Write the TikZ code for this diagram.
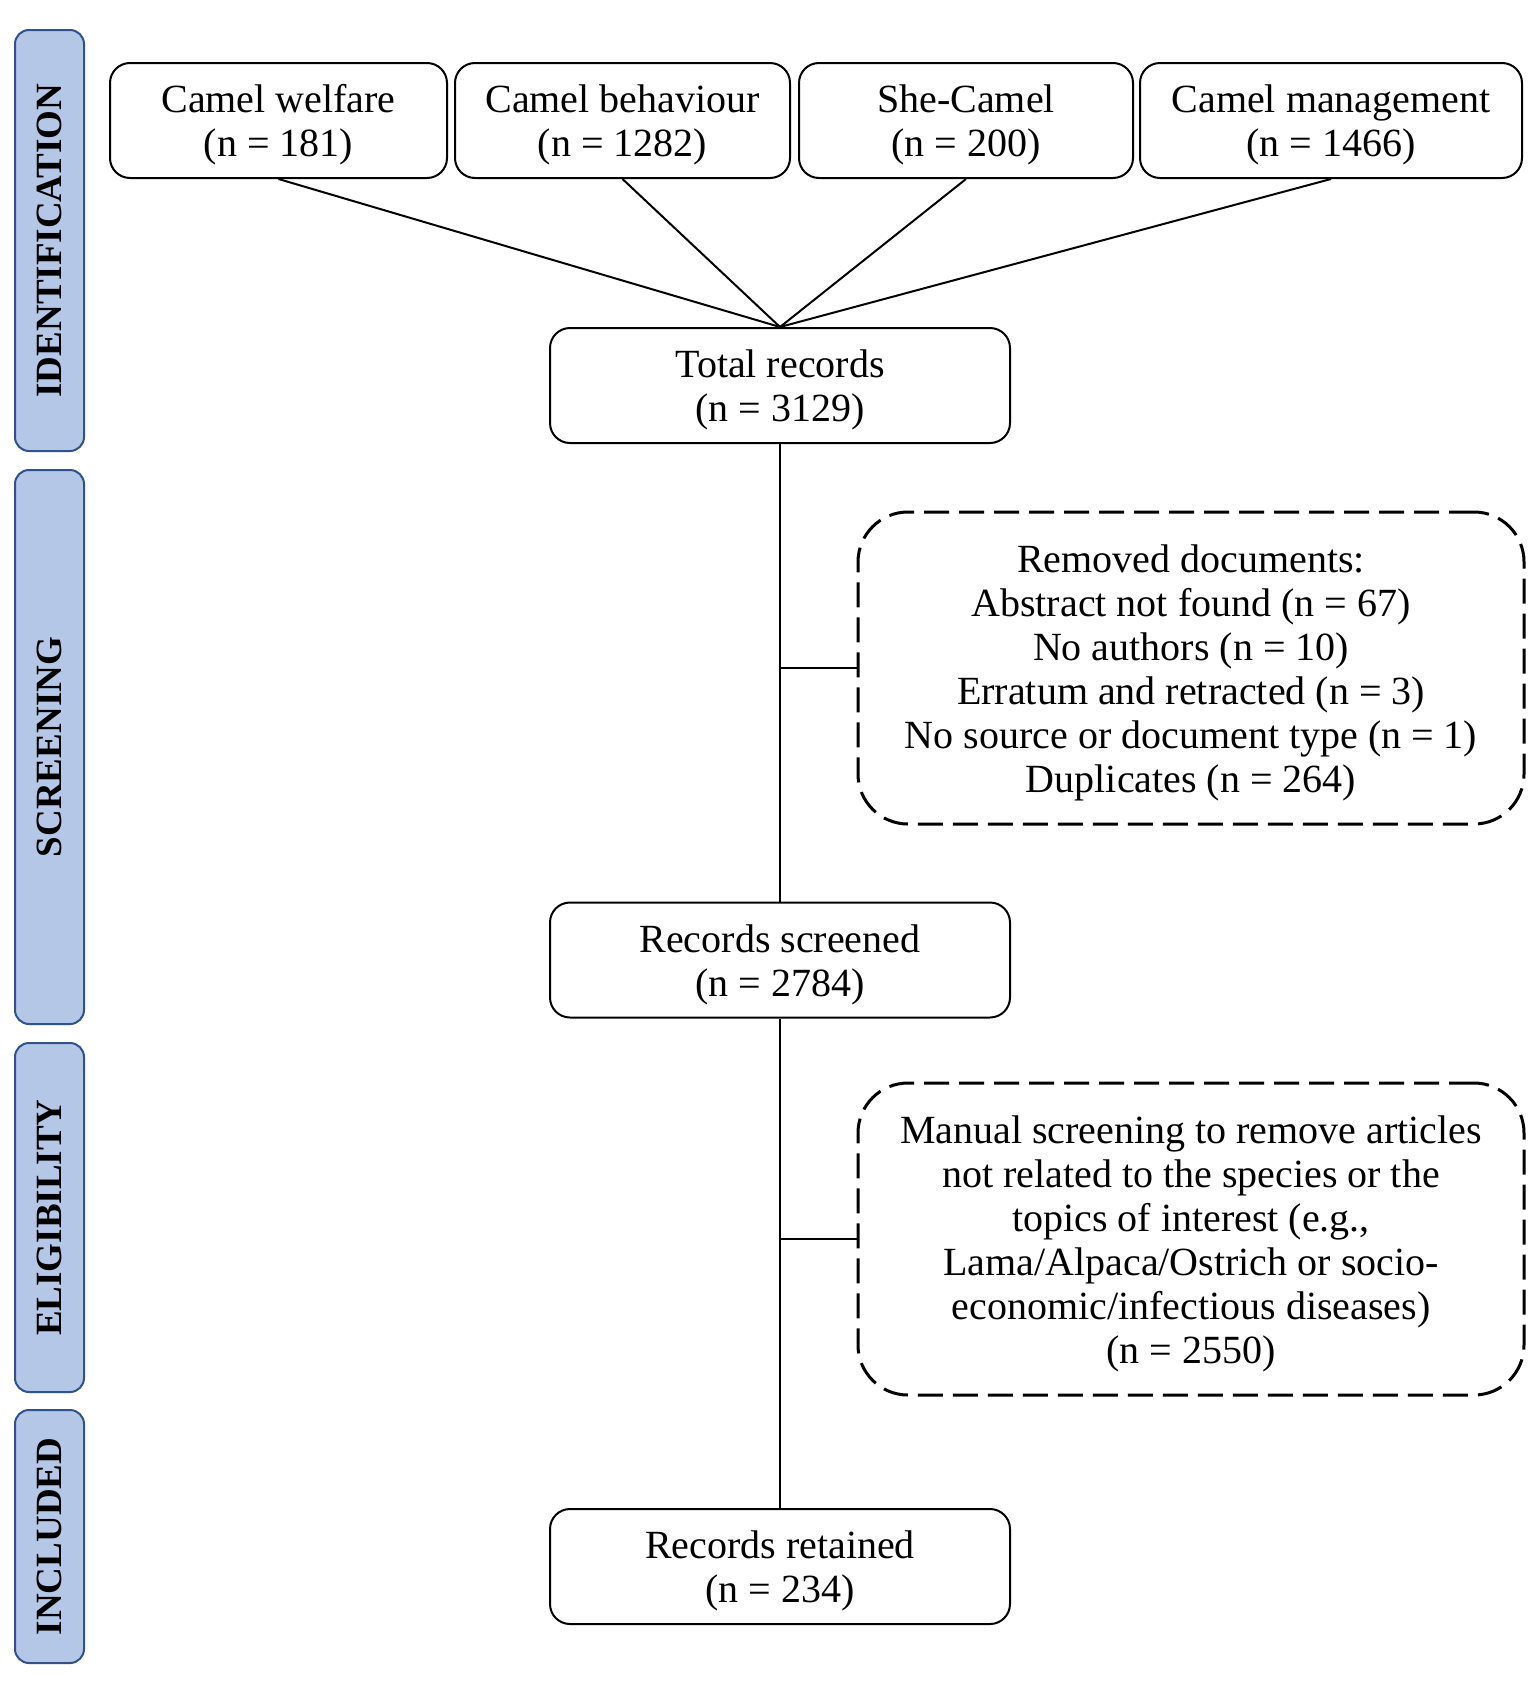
\documentclass[tikz,border=0pt]{standalone}
\usepackage{fontspec}
\setmainfont{Liberation Serif}
\definecolor{phasefill}{RGB}{180,199,231}
\definecolor{phaseborder}{RGB}{47,82,143}
\newcommand{\fstrut}{\rule{0pt}{18.3pt}}
\begin{document}
\begin{tikzpicture}[x=0.5pt,y=-0.5pt,
  box/.style={draw=black, line width=1pt, rounded corners=10pt, fill=white, align=center, inner sep=0pt, minimum height=57.5pt, font=\fontsize{20}{22}\selectfont},
  midbox/.style={box, minimum width=230pt},
  dbox/.style={draw=black, line width=1.5pt, dash pattern=on 12.5pt off 5pt, rounded corners=25pt, minimum width=333pt, minimum height=156pt, align=center, inner sep=0pt, font=\fontsize{20}{22}\selectfont},
  phase/.style={draw=phaseborder, fill=phasefill, line width=1pt, rounded corners=7pt, rotate=90, minimum height=34.5pt, inner sep=0pt, font=\fontsize{18.5}{20}\selectfont\bfseries},
  conn/.style={line width=1pt}]
\useasboundingbox (0,0) rectangle (1535,1687);
\fill[white] (0,0) rectangle (1535,1687);

% phase labels
\node[phase, minimum width=210.5pt] (pid) at (49.5,240.5) {IDENTIFICATION};
\node[phase, minimum width=277pt] (pscr) at (49.5,747) {SCREENING};
\node[phase, minimum width=174.5pt] (peli) at (49.5,1217.5) {ELIGIBILITY};
\node[phase, minimum width=126.5pt] (pinc) at (49.5,1536.5) {INCLUDED};

% top boxes
\node[box, minimum width=168.5pt] (welfare) at (278.5,120.5) {\fstrut Camel welfare\\(n = 181)};
\node[box, minimum width=167.5pt] (behav) at (622.5,120.5) {\fstrut Camel behaviour\\(n = 1282)};
\node[box, minimum width=167pt] (she) at (966,120.5) {\fstrut She-Camel\\(n = 200)};
\node[box, minimum width=191pt] (mgmt) at (1331,120.5) {\fstrut Camel management\\(n = 1466)};

% main column
\node[midbox] (total) at (780,385.5) {\fstrut Total records\\(n = 3129)};
\node[midbox] (screened) at (780,960) {\fstrut Records screened\\(n = 2784)};
\node[midbox] (retained) at (780,1566.5) {\fstrut Records retained\\(n = 234)};

% exclusion boxes
\node[dbox] (rem) at (1191,668) {\fstrut Removed documents:\\Abstract not found (n = 67)\\No authors (n = 10)\\Erratum and retracted (n = 3)\\No source or document type (n = 1)\\Duplicates (n = 264)};
\node[dbox] (man) at (1191,1239) {\fstrut Manual screening to remove articles\\not related to the species or the\\topics of interest (e.g.,\\Lama/Alpaca/Ostrich or socio-\\economic/infectious diseases)\\(n = 2550)};

% connectors
\draw[conn] (welfare.south) -- (total.north);
\draw[conn] (behav.south) -- (total.north);
\draw[conn] (she.south) -- (total.north);
\draw[conn] (mgmt.south) -- (total.north);
\draw[conn] (total.south) -- (screened.north);
\draw[conn] (screened.south) -- (retained.north);
\coordinate (b1) at (total.south |- rem.west);
\coordinate (b2) at (screened.south |- man.west);
\draw[conn] (b1) -- (rem.west);
\draw[conn] (b2) -- (man.west);
\end{tikzpicture}
\end{document}
